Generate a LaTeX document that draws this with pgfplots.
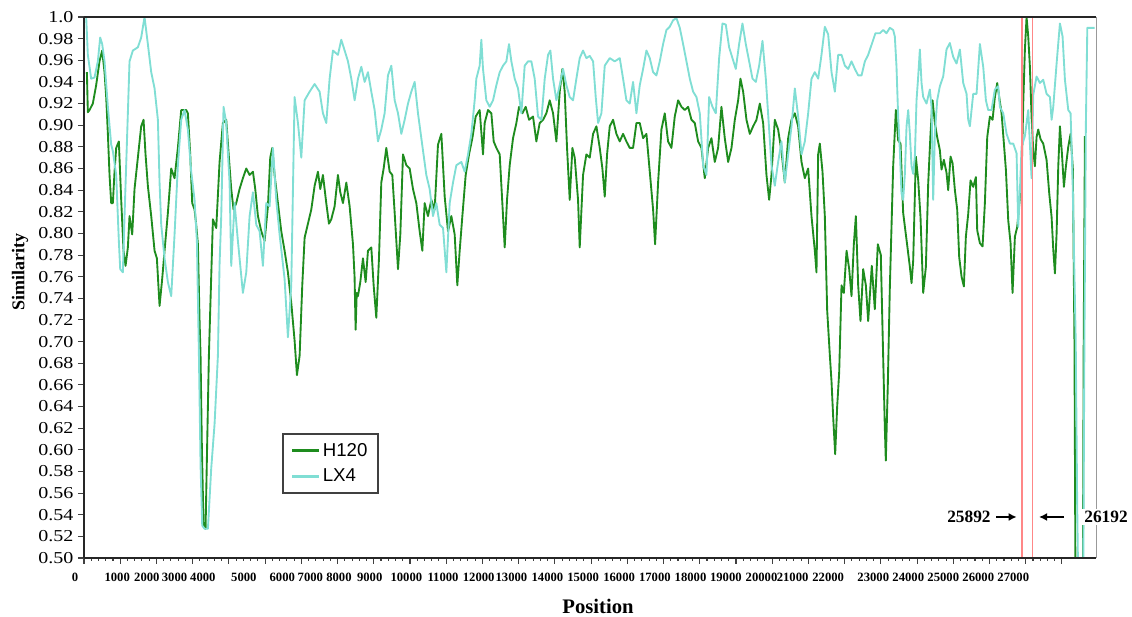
\documentclass[border=0pt]{standalone}
\usepackage{fontspec}
\setmainfont{Liberation Serif}
\newfontfamily\legfont{Liberation Sans}
\newfontfamily\yfont{Liberation Serif}[FakeStretch=1.2]
\usepackage{pgfplots}
\pgfplotsset{compat=1.18}
\usetikzlibrary{arrows.meta}
\definecolor{hgreen}{RGB}{30,140,30}
\definecolor{lcyan}{RGB}{128,222,212}
\definecolor{redl}{RGB}{255,135,135}
\begin{document}
\begin{tikzpicture}
\begin{axis}[
  scale only axis, width=759pt, height=405.75pt,
  xmin=0, xmax=27940, ymin=0.5, ymax=1.0,
  scaled x ticks=false, scaled y ticks=false,
  clip mode=individual,
  axis line style={draw=none},
  tick align=outside, tick pos=left,
  major tick length=4.5pt, minor tick length=2.25pt,
  every tick/.style={black!75, line width=0.8pt},
  xtick={0,1000,...,27000}, xticklabels={},
  minor x tick num=4,
  extra x ticks={917,1735,2500,3282,4414,5475,6249,7039,7887,8901,9912,10898,11801,12796,13779,14773,15760,16746,17721,18707,19564,20547,21790,22757,23724,24691,25657},
  extra x tick labels={1000,2000,3000,4000,5000,6000,7000,8000,9000,10000,11000,12000,13000,14000,15000,16000,17000,18000,19000,20000,21000,22000,23000,24000,25000,26000,27000},
  extra x tick style={major tick length=0pt, tick label style={font=\bfseries\fontsize{9.5}{11}\selectfont, yshift=-8pt}},
  ytick={0.5,0.52,0.54,0.56,0.58,0.6,0.62,0.64,0.66,0.68,0.7,0.72,0.74,0.76,0.78,0.8,0.82,0.84,0.86,0.88,0.9,0.92,0.94,0.96,0.98,1.0},
  yticklabels={0.50,0.52,0.54,0.56,0.58,0.60,0.62,0.64,0.66,0.68,0.70,0.72,0.74,0.76,0.78,0.80,0.82,0.84,0.86,0.88,0.90,0.92,0.94,0.96,0.98,1.0},
  y tick label style={font=\yfont\fontsize{12.5}{14}\selectfont},
  /pgf/number format/assume math mode=true,
  xlabel={Position}, ylabel={Similarity},
  xlabel style={font=\bfseries\fontsize{15.5}{18}\selectfont, at={(axis description cs:0.508,-0.0887)}, anchor=center},
  ylabel style={font=\bfseries\fontsize{13.5}{15}\selectfont, at={(axis description cs:-0.0632,0.529)}, anchor=center},
  legend style={at={(axis description cs:0.1957,0.231)}, anchor=north west, draw=black!75, line width=1.3pt,
    font=\legfont\fontsize{14}{16}\selectfont, inner xsep=6pt, inner ysep=5pt, row sep=4pt, cells={anchor=west}},
  legend image code/.code={\draw[#1, line width=2pt] (0cm,0cm) -- (0.7cm,0cm);},
  legend cell align=left,
]
\addplot[hgreen, line width=1.4pt, line join=round] table {
x y
80 0.949
106 0.912
152 0.914
244 0.920
336 0.937
428 0.959
502 0.969
567 0.949
613 0.926
659 0.892
705 0.854
751 0.828
797 0.828
843 0.857
889 0.879
962 0.885
1027 0.831
1091 0.784
1147 0.770
1211 0.787
1257 0.816
1331 0.799
1395 0.841
1487 0.870
1579 0.899
1644 0.905
1699 0.873
1763 0.844
1856 0.816
1948 0.784
2012 0.777
2086 0.733
2159 0.758
2224 0.784
2316 0.819
2408 0.860
2500 0.851
2592 0.879
2684 0.914
2822 0.914
2868 0.911
2933 0.873
2988 0.828
3052 0.822
3098 0.808
3145 0.790
3191 0.719
3218 0.687
3255 0.601
3301 0.530
3356 0.527
3393 0.592
3448 0.687
3513 0.761
3559 0.813
3651 0.805
3743 0.866
3835 0.902
3927 0.905
4001 0.870
4065 0.841
4129 0.822
4203 0.828
4295 0.841
4387 0.851
4480 0.860
4572 0.854
4664 0.857
4728 0.841
4802 0.816
4894 0.802
4986 0.793
5078 0.825
5142 0.870
5198 0.879
5262 0.854
5354 0.828
5446 0.802
5538 0.784
5630 0.764
5722 0.736
5814 0.701
5879 0.669
5953 0.687
6026 0.752
6091 0.796
6183 0.809
6275 0.822
6367 0.844
6459 0.857
6523 0.841
6597 0.854
6689 0.828
6763 0.809
6827 0.813
6919 0.825
7011 0.854
7076 0.838
7150 0.828
7242 0.847
7334 0.825
7426 0.790
7470 0.760
7499 0.711
7530 0.745
7564 0.742
7628 0.755
7702 0.777
7776 0.755
7840 0.784
7932 0.787
7997 0.752
8070 0.722
8144 0.777
8208 0.847
8273 0.860
8346 0.879
8439 0.857
8512 0.854
8577 0.819
8669 0.767
8733 0.799
8807 0.873
8899 0.863
8991 0.860
9083 0.841
9175 0.828
9267 0.802
9341 0.784
9405 0.828
9497 0.816
9589 0.831
9681 0.822
9773 0.882
9866 0.892
9958 0.834
10050 0.802
10142 0.816
10234 0.799
10307 0.752
10372 0.784
10446 0.816
10538 0.854
10630 0.873
10722 0.888
10814 0.908
10924 0.914
11016 0.873
11062 0.902
11154 0.914
11246 0.911
11311 0.885
11385 0.879
11477 0.873
11569 0.816
11615 0.787
11679 0.831
11753 0.863
11845 0.888
11937 0.902
12011 0.917
12103 0.911
12195 0.917
12287 0.905
12397 0.908
12489 0.885
12581 0.902
12674 0.905
12766 0.911
12858 0.923
12950 0.911
13042 0.885
13134 0.931
13208 0.952
13272 0.931
13336 0.879
13410 0.831
13484 0.879
13548 0.870
13640 0.831
13686 0.787
13778 0.854
13870 0.873
13963 0.870
14055 0.892
14147 0.899
14239 0.879
14312 0.860
14377 0.834
14441 0.873
14515 0.899
14607 0.905
14699 0.892
14791 0.885
14883 0.892
14975 0.885
15067 0.879
15159 0.879
15252 0.902
15344 0.902
15436 0.888
15528 0.892
15620 0.857
15712 0.822
15767 0.790
15850 0.847
15942 0.896
16034 0.911
16126 0.885
16218 0.879
16310 0.908
16403 0.923
16495 0.917
16587 0.914
16679 0.917
16771 0.905
16863 0.902
16955 0.885
17047 0.879
17139 0.851
17231 0.879
17323 0.888
17415 0.866
17507 0.879
17599 0.917
17691 0.888
17784 0.866
17876 0.879
17968 0.905
18060 0.923
18124 0.943
18198 0.931
18290 0.905
18382 0.892
18474 0.899
18566 0.905
18658 0.920
18750 0.902
18842 0.854
18916 0.831
18980 0.854
19072 0.905
19164 0.896
19256 0.876
19349 0.847
19441 0.888
19533 0.905
19625 0.911
19717 0.899
19809 0.866
19901 0.851
19993 0.860
20085 0.816
20177 0.784
20223 0.764
20269 0.873
20315 0.883
20389 0.857
20453 0.816
20518 0.729
20592 0.687
20638 0.663
20684 0.630
20739 0.596
20794 0.640
20850 0.672
20914 0.752
20978 0.745
21053 0.784
21126 0.767
21190 0.742
21254 0.790
21310 0.816
21374 0.752
21438 0.719
21512 0.767
21586 0.752
21650 0.719
21750 0.770
21833 0.730
21916 0.790
21999 0.780
22054 0.700
22110 0.620
22137 0.590
22192 0.660
22248 0.750
22340 0.862
22414 0.914
22478 0.886
22543 0.883
22616 0.819
22709 0.794
22801 0.769
22847 0.754
22893 0.775
22966 0.871
23031 0.849
23095 0.815
23169 0.745
23243 0.769
23307 0.846
23371 0.892
23427 0.923
23491 0.902
23555 0.889
23629 0.877
23675 0.859
23740 0.868
23813 0.856
23859 0.840
23924 0.871
23979 0.865
24044 0.840
24108 0.822
24163 0.778
24228 0.760
24292 0.751
24347 0.797
24412 0.818
24476 0.849
24550 0.843
24624 0.852
24660 0.803
24734 0.791
24808 0.788
24872 0.828
24937 0.889
25010 0.908
25084 0.905
25148 0.926
25213 0.939
25268 0.926
25333 0.911
25397 0.883
25452 0.859
25517 0.812
25581 0.791
25636 0.745
25701 0.797
25765 0.806
25885 0.851
25931 0.920
25977 0.970
26023 1.000
26069 0.982
26115 0.954
26161 0.908
26207 0.877
26253 0.862
26299 0.889
26345 0.896
26410 0.887
26483 0.883
26575 0.868
26649 0.837
26714 0.815
26760 0.785
26806 0.763
26852 0.800
26898 0.862
26944 0.899
26999 0.874
27054 0.843
27109 0.862
27174 0.880
27238 0.892
27300 0.860
27345 0.700
27370 0.500
27580 0.500
27600 0.700
27634 0.890
};
\addlegendentry{H120}
\addplot[lcyan, line width=1.4pt, line join=round] table {
x y
60 1.000
106 0.965
198 0.943
290 0.944
382 0.959
447 0.981
502 0.975
567 0.959
659 0.917
751 0.882
797 0.876
889 0.854
962 0.793
1000 0.767
1073 0.764
1119 0.816
1211 0.911
1257 0.959
1349 0.969
1487 0.972
1579 0.981
1671 1.000
1763 0.975
1856 0.949
1948 0.934
2040 0.905
2086 0.847
2132 0.808
2224 0.777
2316 0.755
2408 0.742
2500 0.799
2592 0.863
2684 0.905
2776 0.914
2868 0.896
2960 0.857
3052 0.831
3117 0.793
3172 0.689
3218 0.586
3264 0.530
3329 0.527
3421 0.527
3513 0.583
3605 0.624
3697 0.687
3743 0.772
3789 0.816
3853 0.917
3927 0.902
4019 0.847
4065 0.770
4157 0.828
4249 0.793
4387 0.745
4480 0.764
4572 0.816
4664 0.838
4756 0.808
4848 0.802
4940 0.770
5032 0.828
5124 0.825
5216 0.879
5308 0.831
5400 0.799
5538 0.758
5630 0.704
5722 0.752
5814 0.926
5907 0.902
5999 0.870
6091 0.923
6229 0.931
6367 0.938
6505 0.931
6597 0.911
6689 0.902
6781 0.943
6873 0.969
7011 0.965
7103 0.979
7196 0.969
7288 0.959
7380 0.943
7472 0.923
7564 0.943
7656 0.954
7748 0.940
7840 0.949
7932 0.931
8024 0.914
8116 0.885
8208 0.896
8300 0.911
8392 0.946
8485 0.955
8577 0.923
8669 0.911
8761 0.892
8853 0.905
8945 0.920
9037 0.931
9129 0.940
9221 0.911
9313 0.888
9451 0.854
9543 0.841
9635 0.816
9727 0.828
9820 0.808
9912 0.805
10004 0.764
10096 0.828
10188 0.847
10280 0.863
10418 0.866
10510 0.857
10602 0.873
10694 0.892
10786 0.923
10832 0.943
10924 0.955
10970 0.979
11016 0.952
11108 0.923
11200 0.917
11293 0.923
11385 0.937
11477 0.949
11569 0.955
11661 0.959
11734 0.975
11799 0.959
11891 0.943
11983 0.934
12075 0.911
12167 0.955
12259 0.959
12351 0.959
12443 0.943
12535 0.908
12628 0.905
12720 0.943
12812 0.965
12876 0.969
12950 0.943
13042 0.923
13134 0.937
13226 0.952
13318 0.937
13410 0.926
13502 0.923
13594 0.943
13686 0.962
13778 0.969
13870 0.962
13963 0.964
14055 0.959
14128 0.926
14193 0.902
14285 0.911
14377 0.955
14515 0.962
14653 0.959
14791 0.962
14883 0.943
14975 0.923
15067 0.920
15159 0.940
15252 0.911
15344 0.937
15436 0.952
15528 0.969
15620 0.962
15712 0.949
15804 0.946
15896 0.959
15988 0.975
16080 0.988
16172 0.991
16264 0.997
16356 0.999
16449 0.990
16540 0.975
16633 0.959
16725 0.943
16817 0.931
16909 0.926
17001 0.911
17093 0.863
17185 0.854
17259 0.926
17351 0.917
17443 0.911
17535 0.962
17627 0.994
17719 0.993
17811 0.972
17903 0.962
17995 0.952
18087 0.975
18179 0.994
18271 0.975
18364 0.959
18456 0.943
18548 0.940
18640 0.955
18732 0.978
18824 0.943
18916 0.896
18980 0.863
19072 0.844
19164 0.866
19256 0.885
19349 0.847
19441 0.873
19533 0.899
19625 0.934
19717 0.908
19809 0.873
19901 0.885
19993 0.911
20085 0.943
20177 0.949
20269 0.943
20361 0.965
20453 0.991
20545 0.984
20638 0.949
20730 0.931
20822 0.965
20914 0.965
21007 0.955
21098 0.952
21190 0.959
21282 0.952
21374 0.946
21467 0.946
21559 0.959
21650 0.965
21750 0.975
21850 0.985
21972 0.985
22064 0.988
22156 0.985
22248 0.990
22340 0.988
22386 0.982
22432 0.954
22478 0.908
22524 0.877
22570 0.837
22616 0.831
22663 0.855
22709 0.899
22755 0.914
22801 0.892
22847 0.862
22893 0.855
22939 0.871
22985 0.923
23031 0.945
23077 0.970
23123 0.939
23169 0.926
23261 0.920
23353 0.933
23399 0.917
23445 0.831
23491 0.892
23555 0.923
23629 0.936
23721 0.945
23813 0.970
23905 0.976
23998 0.963
24090 0.957
24182 0.970
24274 0.939
24366 0.929
24412 0.905
24458 0.899
24550 0.929
24642 0.929
24734 0.975
24826 0.954
24900 0.923
24964 0.914
25056 0.914
25148 0.933
25240 0.936
25287 0.917
25379 0.911
25471 0.892
25563 0.883
25655 0.883
25747 0.874
25793 0.806
25840 0.840
25885 0.880
25977 0.890
26069 0.914
26161 0.851
26207 0.928
26299 0.945
26391 0.939
26483 0.942
26575 0.929
26668 0.926
26714 0.905
26760 0.917
26852 0.957
26944 0.994
27017 0.982
27082 0.942
27174 0.914
27238 0.911
27293 0.850
27380 0.700
27420 0.550
27440 0.500
27590 0.500
27620 0.700
27660 0.900
27700 0.990
27900 0.990
};
\addlegendentry{LX4}
\addplot[redl, line width=1.2pt, forget plot] coordinates {(25892,0.5) (25892,1.0)};
\addplot[redl, line width=1.2pt, forget plot] coordinates {(26192,0.5) (26192,1.0)};
\draw[black!85, line width=1.3pt] (rel axis cs:0,0) -- (rel axis cs:0,1);
\draw[black!85, line width=1.3pt] (rel axis cs:0,0) -- (rel axis cs:1,0);
\draw[black!85, line width=0.9pt] (rel axis cs:0,1) -- (rel axis cs:1,1);
\draw[black!40, line width=0.6pt] (rel axis cs:1,0) -- (rel axis cs:1,1);
\node[font=\bfseries\fontsize{13}{15}\selectfont] at (rel axis cs:0.8745,0.0758) {25892};
\draw[-{Latex[length=6pt,width=6pt]}, line width=1.4pt] (rel axis cs:0.9012,0.0758) -- (rel axis cs:0.9216,0.0758);
\draw[-{Latex[length=6pt,width=6pt]}, line width=1.4pt] (rel axis cs:0.9684,0.0758) -- (rel axis cs:0.9437,0.0758);
\node[fill=white, inner sep=1.5pt, font=\bfseries\fontsize{13}{15}\selectfont] at (rel axis cs:1.0099,0.0758) {26192};
\node[anchor=north, font=\bfseries\fontsize{9.5}{11}\selectfont, yshift=-8pt] at (rel axis cs:-0.0089,0) {0};
\coordinate (BL) at (rel axis cs:0,0);
\coordinate (TR) at (rel axis cs:1,1);
\end{axis}
\pgfresetboundingbox
\path ([shift={(-63pt,-44.25pt)}]BL) rectangle ([shift={(27pt,12.75pt)}]TR);
\end{tikzpicture}
\end{document}
